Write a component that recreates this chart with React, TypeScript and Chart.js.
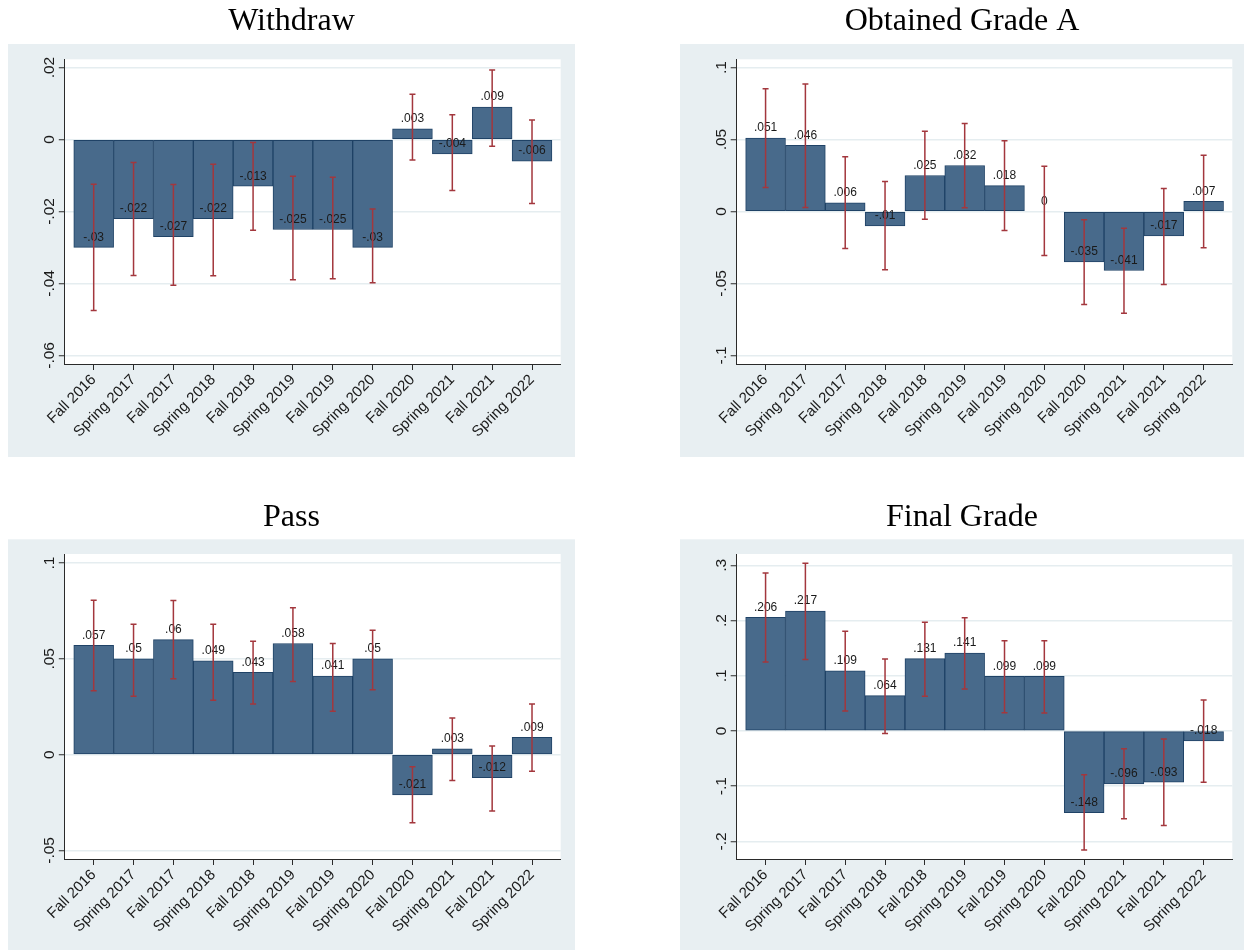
import React, { useEffect, useRef } from "react";
import { Chart, registerables } from "chart.js";

Chart.register(...registerables);

// ---------------- data ----------------
const categories = [
  "Fall 2016", "Spring 2017", "Fall 2017", "Spring 2018", "Fall 2018", "Spring 2019",
  "Fall 2019", "Spring 2020", "Fall 2020", "Spring 2021", "Fall 2021", "Spring 2022",
];

const withdrawValues = [-0.03, -0.022, -0.027, -0.022, -0.013, -0.025, -0.025, -0.03, 0.003, -0.004, 0.009, -0.006];
const withdrawLower = [-0.0475, -0.0378, -0.0405, -0.0379, -0.0252, -0.039, -0.0387, -0.0398, -0.0057, -0.0142, -0.0019, -0.0178];
const withdrawUpper = [-0.0124, -0.0064, -0.0125, -0.0069, -0.0008, -0.0102, -0.0105, -0.0193, 0.0126, 0.0069, 0.0193, 0.0054];
const withdrawTicks = [-0.06, -0.04, -0.02, 0, 0.02];
const withdrawTickLabels = ["-.06", "-.04", "-.02", "0", ".02"];

const gradeAValues = [0.051, 0.046, 0.006, -0.01, 0.025, 0.032, 0.018, 0, -0.035, -0.041, -0.017, 0.007];
const gradeALower = [0.0167, 0.0028, -0.0257, -0.0405, -0.0053, 0.0026, -0.0132, -0.0306, -0.0646, -0.0708, -0.0507, -0.0252];
const gradeAUpper = [0.0854, 0.0887, 0.038, 0.0208, 0.0558, 0.0611, 0.0491, 0.0315, -0.0058, -0.0116, 0.016, 0.0391];
const gradeATicks = [-0.1, -0.05, 0, 0.05, 0.1];
const gradeATickLabels = ["-.1", "-.05", "0", ".05", ".1"];

const passValues = [0.057, 0.05, 0.06, 0.049, 0.043, 0.058, 0.041, 0.05, -0.021, 0.003, -0.012, 0.009];
const passLower = [0.0333, 0.0304, 0.0396, 0.0284, 0.0264, 0.0382, 0.0226, 0.0339, -0.0356, -0.0135, -0.0294, -0.0087];
const passUpper = [0.0805, 0.068, 0.0804, 0.068, 0.0592, 0.0766, 0.058, 0.0649, -0.0063, 0.0191, 0.0045, 0.0264];
const passTicks = [-0.05, 0, 0.05, 0.1];
const passTickLabels = ["-.05", "0", ".05", ".1"];

const finalValues = [0.206, 0.217, 0.109, 0.064, 0.131, 0.141, 0.099, 0.099, -0.148, -0.096, -0.093, -0.018];
const finalLower = [0.1247, 0.1295, 0.0361, -0.0048, 0.0627, 0.0759, 0.0331, 0.0325, -0.2156, -0.159, -0.1711, -0.0928];
const finalUpper = [0.286, 0.3036, 0.1807, 0.1301, 0.197, 0.2048, 0.1633, 0.1633, -0.0795, -0.0325, -0.0145, 0.056];
const finalTicks = [-0.2, -0.1, 0, 0.1, 0.2, 0.3];
const finalTickLabels = ["-.2", "-.1", "0", ".1", ".2", ".3"];

// ---------------- styles ----------------
const BG_COLOR = "#e8eff2";
const BAR_FILL = "#486a8b";
const BAR_BORDER = "#1f4266";
const CI_COLOR = "#a3373d";
const GRID_COLOR = "#e5edf0";
const AXIS_COLOR = "#2a2a2a";
const TEXT_COLOR = "#1a1a1a";
const SANS = '"Liberation Sans", Arial, sans-serif';
const SERIF = '"Liberation Serif", "Times New Roman", serif';
const TITLE_SIZE = 32;

type PanelDef = {
  title: string;
  values: number[];
  lower: number[];
  upper: number[];
  ticks: number[];
  tickLabels: string[];
  yMin: number;
  yMax: number;
  left: number;
  top: number;
  width: number;
  height: number;
  bgTop: number;
  plotLeft: number;
  plotRight: number;
  plotTop: number;
  plotBottom: number;
  titleCenter: number;
};

const panels: PanelDef[] = [
  {
    title: "Withdraw", values: withdrawValues, lower: withdrawLower, upper: withdrawUpper,
    ticks: withdrawTicks, tickLabels: withdrawTickLabels, yMin: -0.0624, yMax: 0.0223,
    left: 8, top: 0, width: 567, height: 457, bgTop: 44,
    plotLeft: 56.8, plotRight: 552.7, plotTop: 59.3, plotBottom: 364, titleCenter: 21.7,
  },
  {
    title: "Obtained Grade A", values: gradeAValues, lower: gradeALower, upper: gradeAUpper,
    ticks: gradeATicks, tickLabels: gradeATickLabels, yMin: -0.106, yMax: 0.1058,
    left: 680, top: 0, width: 564, height: 457, bgTop: 44,
    plotLeft: 56.7, plotRight: 552.3, plotTop: 59.3, plotBottom: 364, titleCenter: 21.7,
  },
  {
    title: "Pass", values: passValues, lower: passLower, upper: passUpper,
    ticks: passTicks, tickLabels: passTickLabels, yMin: -0.0545, yMax: 0.1047,
    left: 8, top: 490, width: 567, height: 460, bgTop: 49.3,
    plotLeft: 56.8, plotRight: 552.7, plotTop: 64, plotBottom: 369, titleCenter: 28,
  },
  {
    title: "Final Grade", values: finalValues, lower: finalLower, upper: finalUpper,
    ticks: finalTicks, tickLabels: finalTickLabels, yMin: -0.232, yMax: 0.3205,
    left: 680, top: 490, width: 564, height: 460, bgTop: 49.3,
    plotLeft: 56.7, plotRight: 552.3, plotTop: 64, plotBottom: 369, titleCenter: 28,
  },
];

function fmt(v: number): string {
  if (v === 0) return "0";
  return String(v).replace(/^(-?)0\./, "$1.");
}

function Panel({ p }: { p: PanelDef }) {
  const ref = useRef<HTMLCanvasElement>(null);

  useEffect(() => {
    const canvas = ref.current;
    if (!canvas) return;
    const lineH = TITLE_SIZE * 1.2;
    const padTop = p.titleCenter - lineH / 2;
    const padBottom = p.plotTop - padTop - lineH;

    const overlay = {
      id: "overlay",
      beforeDraw(chart: any) {
        const ctx = chart.ctx;
        const ca = chart.chartArea;
        ctx.save();
        ctx.fillStyle = BG_COLOR;
        ctx.fillRect(0, p.bgTop, chart.width, chart.height - p.bgTop);
        ctx.fillStyle = "#ffffff";
        ctx.fillRect(ca.left, ca.top, ca.right - ca.left, ca.bottom - ca.top);
        ctx.restore();
      },
      afterDatasetsDraw(chart: any) {
        const ctx = chart.ctx;
        const xs = chart.scales.x;
        const ys = chart.scales.y;
        ctx.save();
        // value labels
        ctx.font = `12px ${SANS}`;
        ctx.fillStyle = TEXT_COLOR;
        ctx.textAlign = "center";
        ctx.textBaseline = "middle";
        p.values.forEach((v, i) => {
          const x = xs.getPixelForValue(i);
          const y = ys.getPixelForValue(v) - 10;
          ctx.fillText(fmt(v), x, y);
        });
        // confidence intervals
        ctx.strokeStyle = CI_COLOR;
        ctx.lineWidth = 1.5;
        p.values.forEach((_, i) => {
          const x = xs.getPixelForValue(i);
          const y1 = ys.getPixelForValue(p.lower[i]);
          const y2 = ys.getPixelForValue(p.upper[i]);
          ctx.beginPath();
          ctx.moveTo(x, y1);
          ctx.lineTo(x, y2);
          ctx.moveTo(x - 3, y1);
          ctx.lineTo(x + 3, y1);
          ctx.moveTo(x - 3, y2);
          ctx.lineTo(x + 3, y2);
          ctx.stroke();
        });
        ctx.restore();
      },
      afterDraw(chart: any) {
        const ctx = chart.ctx;
        const ys = chart.scales.y;
        const ca = chart.chartArea;
        ctx.save();
        ctx.font = `15.5px ${SANS}`;
        ctx.fillStyle = TEXT_COLOR;
        ctx.textAlign = "center";
        ctx.textBaseline = "alphabetic";
        p.ticks.forEach((t, i) => {
          const y = ys.getPixelForValue(t);
          ctx.save();
          ctx.translate(ca.left - 11, y);
          ctx.rotate(-Math.PI / 2);
          ctx.fillText(p.tickLabels[i], 0, 0);
          ctx.restore();
        });
        ctx.restore();
      },
    };

    const chart = new Chart(canvas, {
      type: "bar",
      data: {
        datasets: [
          {
            label: p.title,
            data: p.values.map((v, i) => ({ x: i, y: v })),
            backgroundColor: BAR_FILL,
            borderColor: BAR_BORDER,
            borderWidth: 1,
            borderSkipped: false,
            barPercentage: 1,
            categoryPercentage: 1,
          } as any,
        ],
      },
      options: {
        responsive: false,
        animation: false,
        events: [],
        layout: { padding: 0 },
        plugins: {
          legend: { display: false },
          tooltip: { enabled: false },
          title: {
            display: true,
            text: p.title,
            color: "#000",
            font: { family: SERIF, size: TITLE_SIZE, weight: "normal", lineHeight: 1.2 },
            padding: { top: padTop, bottom: padBottom },
          },
        },
        scales: {
          x: {
            type: "linear",
            min: -0.725,
            max: 11.72,
            offset: false,
            bounds: "data",
            afterBuildTicks: (s: any) => {
              s.ticks = categories.map((_, i) => ({ value: i }));
            },
            afterFit: (s: any) => {
              s.height = p.height - p.plotBottom;
            },
            ticks: {
              autoSkip: false,
              minRotation: 45,
              maxRotation: 45,
              padding: 1,
              color: TEXT_COLOR,
              font: { family: SANS, size: 15 },
              callback: (v: any) => categories[Math.round(Number(v))] ?? "",
            },
            grid: {
              display: true,
              offset: false,
              drawOnChartArea: false,
              drawTicks: true,
              tickLength: 6,
              tickColor: AXIS_COLOR,
              tickWidth: 1,
            },
            border: { display: true, color: AXIS_COLOR, width: 1 },
          } as any,
          y: {
            type: "linear",
            min: p.yMin,
            max: p.yMax,
            afterBuildTicks: (s: any) => {
              s.ticks = p.ticks.map((v) => ({ value: v }));
            },
            afterFit: (s: any) => {
              s.width = p.plotLeft;
            },
            ticks: { display: false },
            grid: {
              color: GRID_COLOR,
              lineWidth: 1.5,
              drawTicks: true,
              tickLength: 6,
              tickColor: AXIS_COLOR,
              tickWidth: 1,
            },
            border: { display: true, color: AXIS_COLOR, width: 1 },
          } as any,
          yRightMargin: {
            type: "linear",
            position: "right",
            display: true,
            min: 0,
            max: 1,
            afterFit: (s: any) => {
              s.width = p.width - p.plotRight;
            },
            ticks: { display: false },
            grid: { display: false, drawTicks: false },
            border: { display: false },
          } as any,
        },
      },
      plugins: [overlay],
    });
    return () => chart.destroy();
  }, [p]);

  return (
    <canvas
      ref={ref}
      width={p.width}
      height={p.height}
      style={{ position: "absolute", left: p.left, top: p.top, width: p.width, height: p.height }}
    />
  );
}

export default function App() {
  return (
    <div style={{ position: "absolute", left: 0, top: 0, width: 1244, height: 950, background: "#ffffff", overflow: "hidden" }}>
      {panels.map((p) => (
        <Panel key={p.title} p={p} />
      ))}
    </div>
  );
}
